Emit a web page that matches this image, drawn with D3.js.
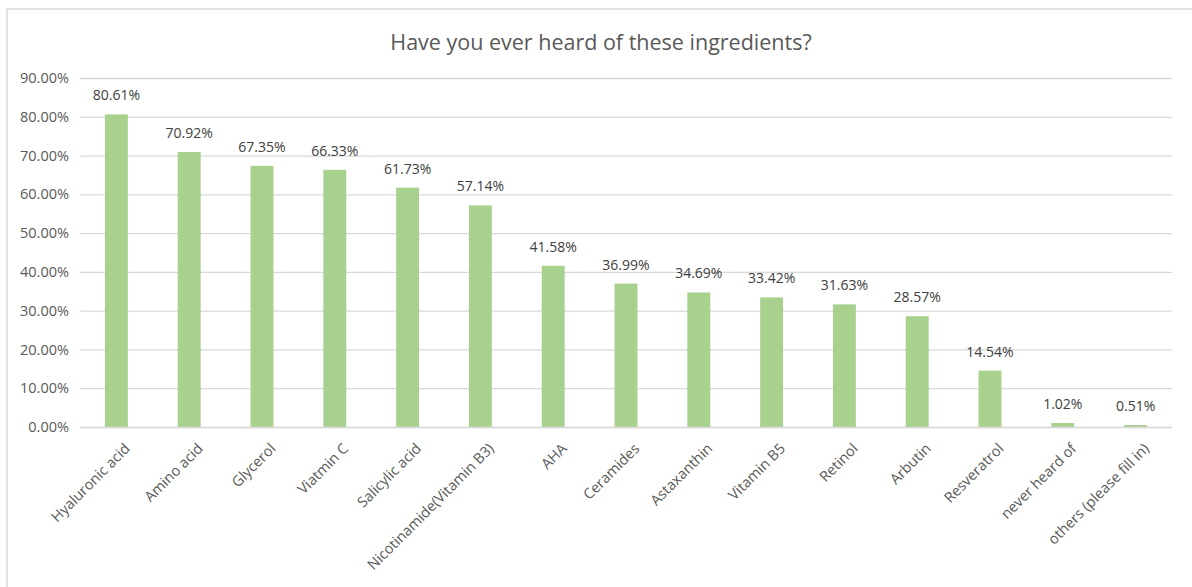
<!DOCTYPE html>
<html><head><meta charset="utf-8">
<script src="https://cdn.jsdelivr.net/npm/d3@7"></script>
<style>body{margin:0;background:#fff}svg{display:block}text{font-family:"Open Sans",Calibri,sans-serif}</style>
</head><body><svg id="c" width="1192" height="587"></svg>
<script>
const categories = ["Hyaluronic acid","Amino acid","Glycerol","Viatmin C","Salicylic acid","Nicotinamide(Vitamin B3)","AHA","Ceramides","Astaxanthin","Vitamin B5","Retinol","Arbutin","Resveratrol","never heard of","others (please fill in)"];
const values = [80.61,70.92,67.35,66.33,61.73,57.14,41.58,36.99,34.69,33.42,31.63,28.57,14.54,1.02,0.51];
const yTicks = [0,10,20,30,40,50,60,70,80,90];
const title = "Have you ever heard of these ingredients?";

const svg = d3.select("#c");
svg.append("rect").attr("x",7).attr("y",9).attr("width",1200).attr("height",600).attr("fill","#fff").attr("stroke","#d9d9d9").attr("stroke-width",1.5);
const m = {l:80, r:1172, t:78, b:427};
const x = d3.scaleBand().domain(categories).range([m.l,m.r]).paddingInner(0.685).paddingOuter(0.3425);
const y = d3.scaleLinear().domain([0,90]).range([m.b,m.t]);

svg.append("text").attr("x",601).attr("y",50).attr("text-anchor","middle").attr("font-size",21.5).attr("fill","#595959").text(title);

const ga = svg.append("g").attr("transform",`translate(${m.l},0)`)
  .call(d3.axisLeft(y).tickValues(yTicks).tickSize(-(m.r-m.l)).tickFormat(d=>d.toFixed(2)+"%"));
ga.select(".domain").remove();
ga.selectAll(".tick line").attr("stroke","#d9d9d9").attr("stroke-width",1.3);
ga.selectAll(".tick text").attr("x",-11).attr("font-size",14.5).attr("fill","#595959").attr("font-family","'Open Sans',sans-serif");

svg.append("g").selectAll("rect").data(values).join("rect")
  .attr("x",(d,i)=>x(categories[i])).attr("width",x.bandwidth())
  .attr("y",d=>y(d)).attr("height",d=>y(0)-y(d)).attr("fill","#a9d18e");

svg.append("line").attr("x1",m.l).attr("x2",m.r).attr("y1",m.b+0.5).attr("y2",m.b+0.5).attr("stroke","#d9d9d9").attr("stroke-width",1.3);

svg.append("g").selectAll("text").data(values).join("text")
  .attr("x",(d,i)=>x(categories[i])+x.bandwidth()/2).attr("y",d=>y(d)-14)
  .attr("text-anchor","middle").attr("font-size",14).attr("fill","#404040")
  .text(d=>d.toFixed(2)+"%");

const gx = svg.append("g").attr("transform",`translate(0,${m.b})`)
  .call(d3.axisBottom(x).tickSize(0).tickPadding(0));
gx.select(".domain").remove();
gx.selectAll(".tick text").attr("font-size",14.5).attr("fill","#595959").attr("font-family","'Open Sans',sans-serif")
  .attr("text-anchor","end").attr("dy",0).attr("y",0)
  .attr("transform","translate(6,14) rotate(-45)").attr("dominant-baseline","hanging");
</script></body></html>
